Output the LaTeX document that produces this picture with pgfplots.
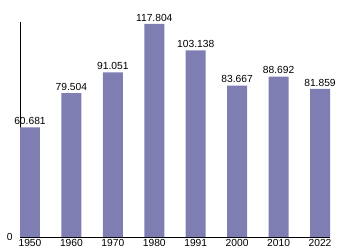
\documentclass[border=0pt]{standalone}
\usepackage{pgfplots}
\pgfplotsset{compat=1.18}
\usepackage{fontspec}
\setmainfont{Liberation Sans}
\definecolor{barc}{RGB}{127,126,178}
\begin{document}
\begin{tikzpicture}
\useasboundingbox (0,0) rectangle (350bp,250bp);
\begin{axis}[
  at={(20bp,13bp)}, anchor=south west,
  scale only axis, width=310bp, height=215bp,
  xmin=-0.241, xmax=7.241, ymin=0, ymax=118.9,
  axis x line*=bottom, axis y line*=left,
  axis line style={black, line width=0.7pt, -},
  xtick=data,
  xticklabels={1950,1960,1970,1980,1991,2000,2010,2022},
  ytick={0}, yticklabels={0},
  major tick length=0pt,
  tick label style={font=\fontsize{10.3}{12}\selectfont},
  xticklabel style={yshift=1.5bp},
  yticklabel style={xshift=-4bp},
  ybar, bar width=20bp,
  nodes near coords,
  /pgf/number format/.cd, fixed, fixed zerofill, precision=3, assume math mode=true, use period, 1000 sep={},
  /pgfplots/.cd,
  every node near coord/.append style={font=\fontsize{10.3}{12}\selectfont, inner sep=1bp, yshift=1.5bp},
]
\addplot[fill=barc, draw=none] coordinates {
(0,60.681) (1,79.504) (2,91.051) (3,117.804) (4,103.138) (5,83.667) (6,88.692) (7,81.859)};
\end{axis}
\end{tikzpicture}
\end{document}
